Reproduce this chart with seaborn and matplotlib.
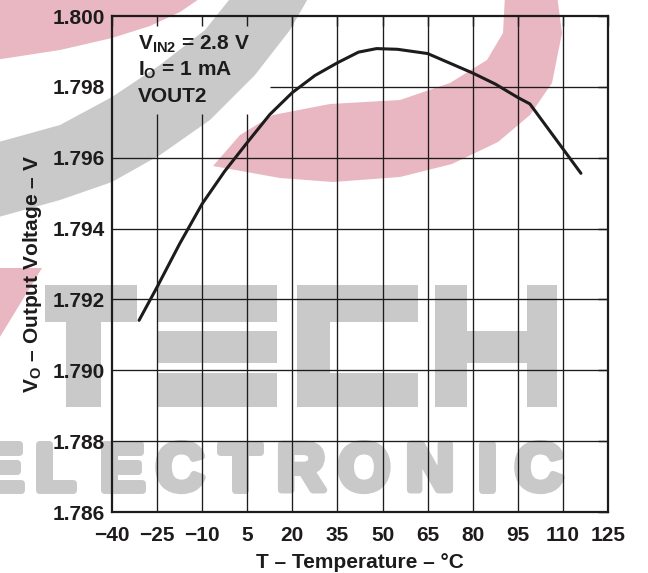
import numpy as np
import pandas as pd
import matplotlib
matplotlib.use('Agg')
import matplotlib.pyplot as plt
import matplotlib.patheffects as pe
from matplotlib.patches import Polygon, Rectangle
import seaborn as sns

# ========== data ==========
TEMP_C = [-31, -25, -17.5, -10, -2.5, 5, 12.5, 20, 27.5, 35, 42, 48, 55,
          65, 80, 87.5, 95, 99, 116]
VOUT_V = [1.79141, 1.79235, 1.79357, 1.79470, 1.79562, 1.79643, 1.79722,
          1.79784, 1.79832, 1.79868, 1.79898, 1.79908, 1.79906, 1.79894,
          1.79839, 1.79808, 1.79770, 1.79752, 1.79556]

X_TICKS = [-40, -25, -10, 5, 20, 35, 50, 65, 80, 95, 110, 125]
X_TICK_LABELS = ['\u221240', '\u221225', '\u221210', '5', '20', '35', '50',
                 '65', '80', '95', '110', '125']
Y_TICKS = [1.786, 1.788, 1.790, 1.792, 1.794, 1.796, 1.798, 1.800]
Y_TICK_LABELS = ['1.786', '1.788', '1.790', '1.792', '1.794', '1.796',
                 '1.798', '1.800']

CONDITIONS = [r'$\mathrm{V_{IN2}}$ = 2.8 V', r'$\mathrm{I_O}$ = 1 mA', 'VOUT2']

# corner of the blank area behind the conditions text (data units)
BOX_RIGHT = 12.4
BOX_BOTTOM = 1.79724

# ========== style ==========
sns.set_style('white')
plt.rcParams['font.family'] = ['Liberation Sans', 'DejaVu Sans']
plt.rcParams['font.weight'] = 'bold'
plt.rcParams['mathtext.fontset'] = 'custom'
plt.rcParams['mathtext.rm'] = 'Liberation Sans:bold'
plt.rcParams['mathtext.it'] = 'Liberation Sans:bold'
plt.rcParams['mathtext.bf'] = 'Liberation Sans:bold'

W, H = 648, 573
FS = 15
INK = '#1e1b1c'
PINK = '#e9b7c1'
GREY = '#c9c9c9'

fig = plt.figure(figsize=(W / 100, H / 100), dpi=100)
fig.patch.set_facecolor('white')


def px(x, y):
    return (x / W, 1 - y / H)


# ========== watermark (behind the chart) ==========
def add_poly(points, color):
    fig.add_artist(Polygon([px(*p) for p in points], closed=True,
                           facecolor=color, edgecolor='none',
                           transform=fig.transFigure, zorder=-2))


def add_rect(x0, y0, x1, y1, color=GREY):
    fig.add_artist(Rectangle(px(x0, y1), (x1 - x0) / W, (y1 - y0) / H,
                             facecolor=color, edgecolor='none',
                             transform=fig.transFigure, zorder=-2))


add_poly([(557, -5), (562, 33), (552, 83), (530, 115), (498, 142), (452, 164),
          (400, 177), (333, 182), (280, 178), (213, 166), (240, 135),
          (273, 115), (330, 104), (400, 100), (450, 83), (487, 60),
          (503, 33), (505, -5)], PINK)
add_poly([(-5, -5), (205, -5), (180, 12), (150, 26), (112, 38), (60, 50),
          (-5, 60)], PINK)
add_poly([(-5, 268), (42, 268), (-5, 345)], PINK)
add_poly([(233, -5), (205, 30), (160, 65), (112, 97), (60, 125), (-5, 143),
          (-5, 218), (60, 200), (112, 182), (160, 155), (210, 120),
          (255, 75), (290, 30), (310, -5)], GREY)

# T
add_rect(45, 285, 137, 322)
add_rect(66, 322, 101, 407)
# E
add_rect(157, 285, 277, 322)
add_rect(157, 331, 277, 363)
add_rect(157, 373, 277, 407)
# C
add_rect(297, 285, 418, 322)
add_rect(297, 373, 418, 407)
add_rect(297, 322, 330, 373)
# H
add_rect(435, 285, 467, 407)
add_rect(527, 285, 557, 407)
add_rect(467, 331, 527, 363)

for ch, cx in zip('ELECTRONIC', [1, 55, 122, 180, 240, 301, 364, 430, 487, 539]):
    fig.text(*px(cx, 490), ch, ha='center', va='baseline', fontsize=48,
             fontweight='bold', color=GREY, zorder=-1,
             family=['Liberation Sans Narrow', 'Liberation Sans'],
             path_effects=[pe.withStroke(linewidth=5, foreground=GREY)])

# ========== chart ==========
ax = fig.add_axes([112 / W, 61 / H, 496 / W, 496 / H])
ax.set_facecolor('none')

df = pd.DataFrame({'temp': TEMP_C, 'vout': VOUT_V})
sns.lineplot(data=df, x='temp', y='vout', ax=ax, color=INK, linewidth=2.2,
             zorder=5)

ax.set_xlim(X_TICKS[0], X_TICKS[-1])
ax.set_ylim(Y_TICKS[0], Y_TICKS[-1])

# grid, left open behind the conditions text
for t in X_TICKS[1:-1]:
    top = BOX_BOTTOM if t < BOX_RIGHT else Y_TICKS[-1]
    ax.vlines(t, Y_TICKS[0], top, color=INK, linewidth=0.95, zorder=3)
for v in Y_TICKS[1:-1]:
    start = BOX_RIGHT if v > BOX_BOTTOM else X_TICKS[0]
    ax.hlines(v, start, X_TICKS[-1], color=INK, linewidth=0.95, zorder=3)

ax.set_xticks(X_TICKS)
ax.set_xticklabels(X_TICK_LABELS)
ax.set_yticks(Y_TICKS)
ax.set_yticklabels(Y_TICK_LABELS)
ax.tick_params(axis='both', direction='in', length=7, width=1, color=INK,
               labelsize=FS, labelcolor=INK, top=True, right=True)
ax.tick_params(axis='x', pad=10)
ax.tick_params(axis='y', pad=5)

for s in ax.spines.values():
    s.set_visible(True)
    s.set_color(INK)
    s.set_linewidth(1.6)

ax.set_xlabel('T \u2013 Temperature \u2013 \u00b0C', fontsize=FS,
              fontweight='bold', color=INK, labelpad=6)
ax.set_ylabel(r'$\mathrm{V_O}$ ' + '\u2013 Output Voltage \u2013 V',
              fontsize=FS, fontweight='bold', color=INK)
ax.yaxis.set_label_coords(-0.137, 0.48)

for txt, ypx in zip(CONDITIONS, [50, 76, 102]):
    ax.text((138 - 112) / 496, (512 - ypx) / 496, txt, transform=ax.transAxes,
            fontsize=FS, fontweight='bold', color=INK, va='baseline',
            ha='left', zorder=6)

fig.savefig('out.png', dpi=100)
